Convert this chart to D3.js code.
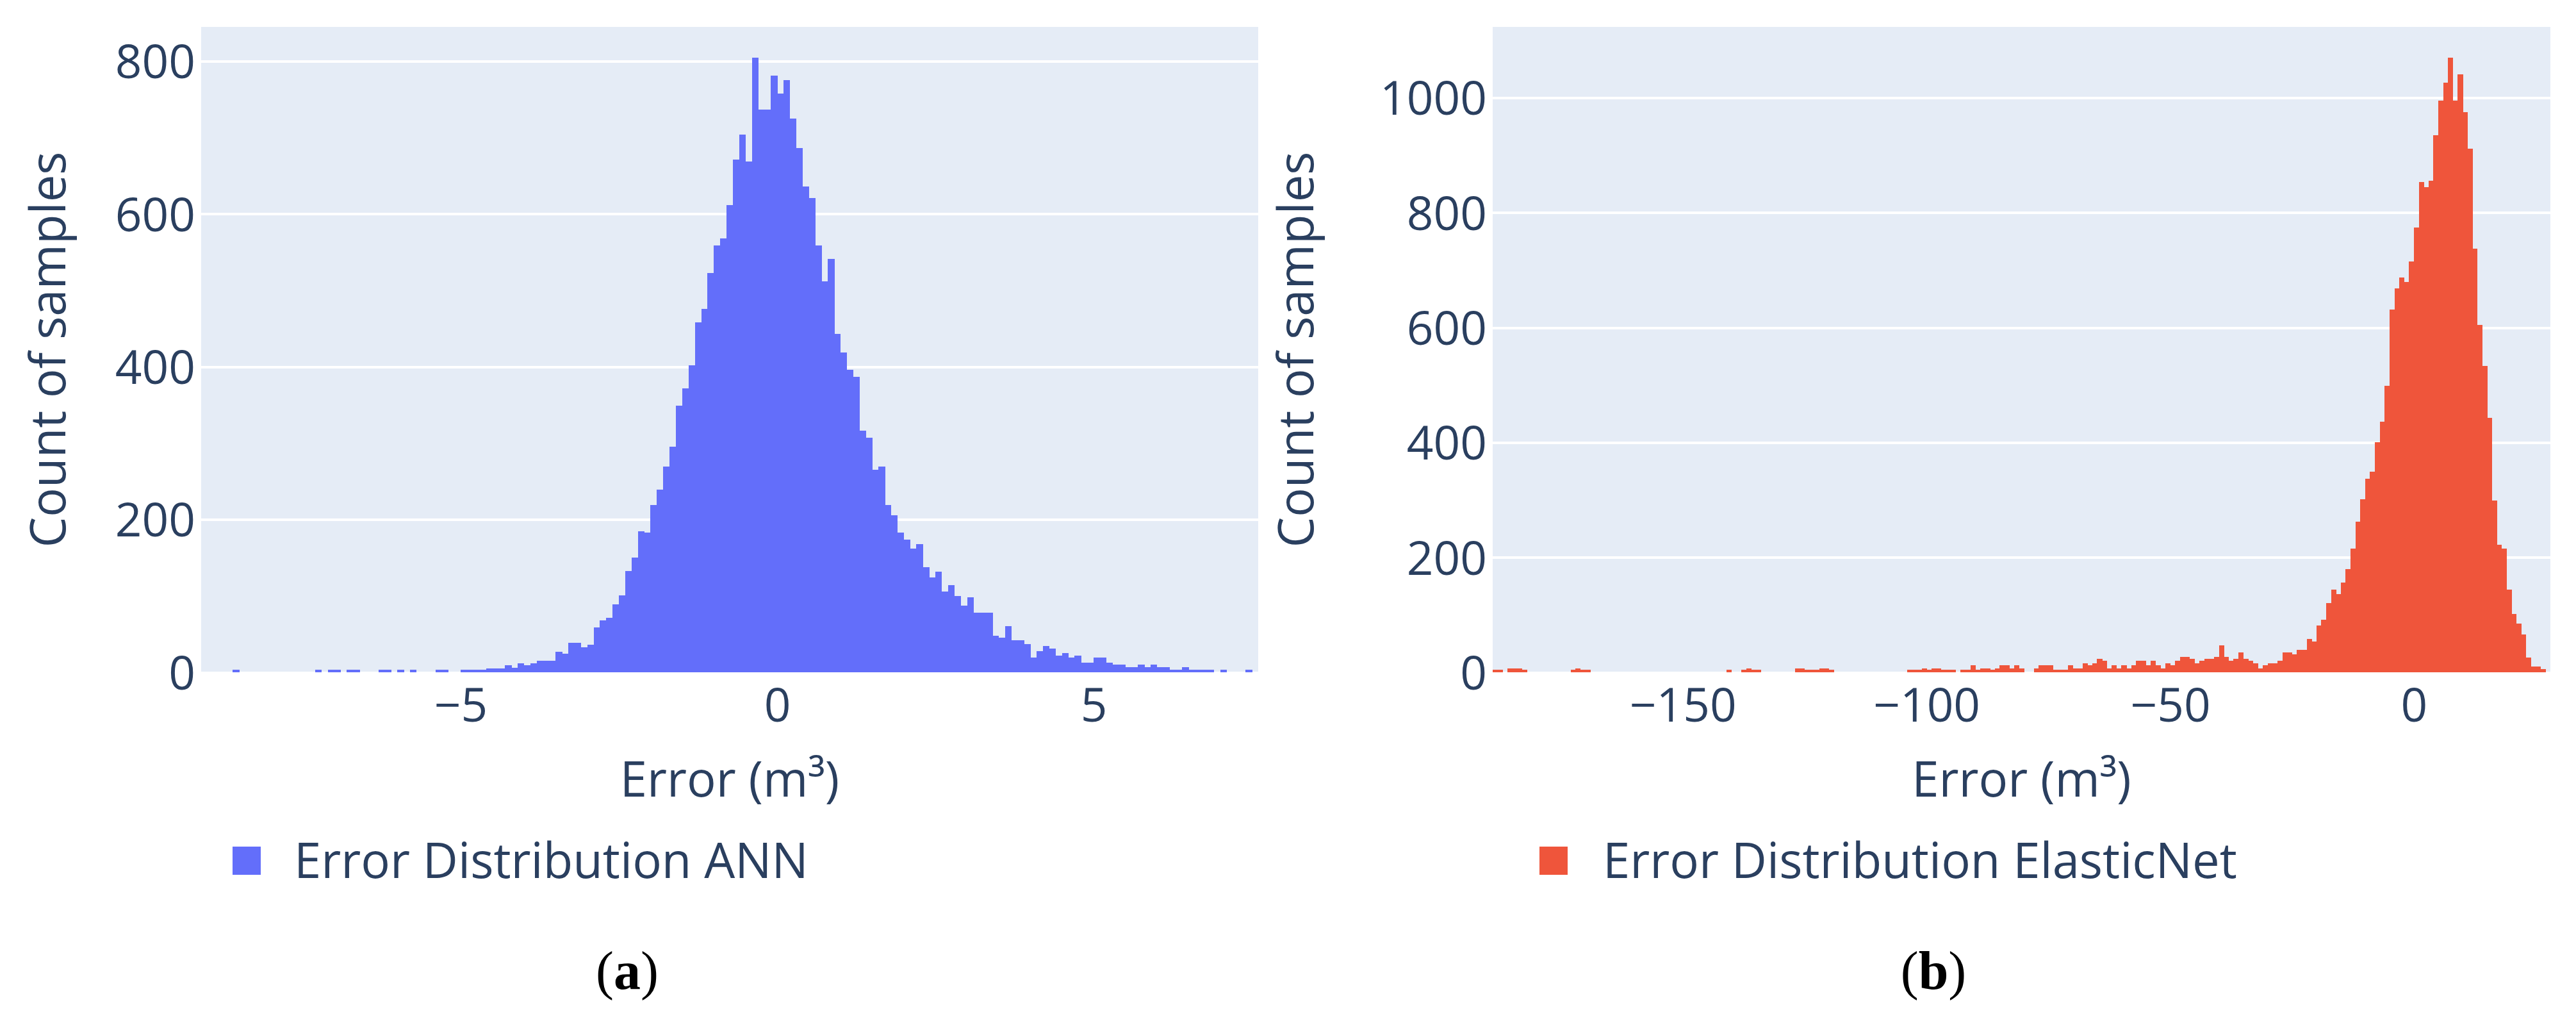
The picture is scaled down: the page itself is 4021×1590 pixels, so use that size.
<!DOCTYPE html>
<html>
<head>
<meta charset="utf-8">
<script src="https://cdn.jsdelivr.net/npm/d3@7"></script>
<style>
  body { margin: 0; background: #fff; }
  text { font-family: "Open Sans", verdana, arial, sans-serif; fill: #2a3f5f; }
  .caption { font-family: "Liberation Serif", "DejaVu Serif", serif; fill: #000; }
</style>
</head>
<body>
<div id="chart-area"></div>
<script>
// ---- data ----
// ANN errors, bins of 0.1 starting at -8.6
var annStart = -8.6;
var annBin = 0.1;
var annCounts = [
  3,0,0,0,0,0,0,0,0,0,0,0,0,3,0,3,3,0,3,3,0,0,0,3,3,0,3,0,3,0,0,0,3,3,0,0,
  3,3,3,3,5,5,5,9,6,12,9,12,15,15,15,27,24,39,39,33,36,59,68,71,89,101,133,150,185,183,
  219,239,269,295,349,372,402,458,476,523,559,568,612,671,704,669,805,737,737,781,758,775,725,686,636,621,559,512,541,443,
  419,396,387,316,307,265,269,219,206,183,174,162,168,138,124,132,106,114,100,
  87,98,78,78,78,48,45,60,42,42,37,19,28,34,31,22,25,19,22,13,13,19,19,13,10,10,7,7,10,7,10,7,7,3,3,7,3,3,3,3,0,3,0,0,0,3
];

// ElasticNet errors, bins of 1 starting at -189
var enStart = -189;
var enBin = 1;
var enCounts = [
  4,4,0,7,7,7,4,0,0,0,0,0,0,0,0,0,4,7,4,4,
  0,0,0,0,0,0,0,0,0,0,0,0,0,0,0,0,0,0,0,0,0,0,0,0,0,0,0,0,
  4,0,0,4,7,4,4,0,0,0,0,0,0,0,7,7,4,4,4,7,7,4,
  0,0,0,0,0,0,0,0,0,0,0,0,0,0,0,
  4,4,4,7,4,7,7,4,4,4,0,4,4,12,4,7,7,4,7,12,12,7,12,7,0,0,7,12,12,12,4,4,4,12,7,7,
  16,12,16,23,20,7,12,7,12,7,12,20,20,12,20,12,7,16,12,20,27,27,23,16,20,23,23,27,47,27,20,23,35,23,20,16,7,12,16,16,20,35,35,31,39,39,
  58,53,81,92,120,144,136,156,180,215,262,301,337,349,400,436,499,632,668,687,679,715,774,853,845,856,935,995,1026,1070,995,1041,975,912,738,605,533,443,299,222,215,144,101,85,66,26,10,10,6
];

var annTicksX = [-5, 0, 5];
var annTicksY = [0, 200, 400, 600, 800];
var enTicksX = [-150, -100, -50, 0];
var enTicksY = [0, 200, 400, 600, 800, 1000];

var annName = "Error Distribution ANN";
var enName = "Error Distribution ElasticNet";
var xTitle = "Error (m\u00b3)";
var yTitle = "Count of samples";

// ---- layout ----
const svgWidth = 4021;
const svgHeight = 1590;

var panels = [
  { left: 314, top: 42, width: 1650, height: 1007, xDomain: [-9.1, 7.6], yMax: 845,
    start: annStart, size: annBin, counts: annCounts, color: "#636efa",
    xTicks: annTicksX, yTicks: annTicksY, yTitleX: 102,
    legendX: 363, legendTextX: 459, name: annName, captionX: 979, caption: "a" },
  { left: 2330, top: 42, width: 1651, height: 1007, xDomain: [-189, 28], yMax: 1123.5,
    start: enStart, size: enBin, counts: enCounts, color: "#ef553b",
    xTicks: enTicksX, yTicks: enTicksY, yTitleX: 2050,
    legendX: 2403, legendTextX: 2502, name: enName, captionX: 3018, caption: "b" }
];

var canvas = d3.select("#chart-area").append("svg")
               .attr("width", svgWidth)
               .attr("height", svgHeight);

canvas.append("rect")
      .attr("width", svgWidth)
      .attr("height", svgHeight)
      .attr("fill", "#fff");

function fmt(d) {
  return d < 0 ? "\u2212" + Math.abs(d) : String(d);
}

panels.forEach(function (p) {
  var xScale = d3.scaleLinear()
                 .domain(p.xDomain)
                 .range([p.left, p.left + p.width]);

  var yScale = d3.scaleLinear()
                 .domain([0, p.yMax])
                 .range([p.top + p.height, p.top]);

  // plot background
  canvas.append("rect")
        .attr("x", p.left)
        .attr("y", p.top)
        .attr("width", p.width)
        .attr("height", p.height)
        .attr("fill", "#e5ecf6");

  // horizontal grid
  var yAxis = d3.axisLeft(yScale)
                .tickValues(p.yTicks)
                .tickSize(-p.width)
                .tickPadding(9)
                .tickFormat(fmt);

  var yAxisGroup = canvas.append("g")
                         .attr("transform", "translate(" + p.left + ",0)")
                         .call(yAxis);

  yAxisGroup.select(".domain").remove();
  yAxisGroup.selectAll(".tick line")
            .attr("stroke", "#fff")
            .attr("stroke-width", 4)
            .attr("shape-rendering", "crispEdges");
  yAxisGroup.selectAll(".tick text")
            .attr("fill", "#2a3f5f")
            .attr("font-size", 73)
            .attr("font-family", '"Open Sans", verdana, arial, sans-serif')
            .attr("dy", "0.36em");

  // bars
  var bins = p.counts.map(function (c, i) {
    return { x0: p.start + i * p.size, x1: p.start + (i + 1) * p.size, count: c };
  }).filter(function (b) { return b.count > 0; });

  canvas.append("g")
        .selectAll("rect")
        .data(bins)
        .enter()
        .append("rect")
        .attr("x", d => xScale(d.x0))
        .attr("width", d => xScale(d.x1) - xScale(d.x0) + 0.5)
        .attr("y", d => yScale(d.count))
        .attr("height", d => yScale(0) - yScale(d.count))
        .attr("fill", p.color)
        .attr("shape-rendering", "crispEdges");

  // x axis labels
  var xAxis = d3.axisBottom(xScale)
                .tickValues(p.xTicks)
                .tickSize(0)
                .tickPadding(0)
                .tickFormat(fmt);

  var xAxisGroup = canvas.append("g")
                         .attr("transform", "translate(0," + (p.top + p.height) + ")")
                         .call(xAxis);

  xAxisGroup.select(".domain").remove();
  xAxisGroup.selectAll(".tick text")
            .attr("fill", "#2a3f5f")
            .attr("font-size", 73)
            .attr("font-family", '"Open Sans", verdana, arial, sans-serif')
            .attr("dy", null)
            .attr("y", 77);

  // axis titles
  canvas.append("text")
        .attr("x", p.left + p.width / 2)
        .attr("y", 1243)
        .attr("text-anchor", "middle")
        .attr("font-size", 76)
        .text(xTitle);

  canvas.append("text")
        .attr("transform", "translate(" + p.yTitleX + "," + (p.top + p.height / 2) + ") rotate(-90)")
        .attr("text-anchor", "middle")
        .attr("font-size", 76)
        .text(yTitle);

  // legend
  canvas.append("rect")
        .attr("x", p.legendX)
        .attr("y", 1321)
        .attr("width", 44)
        .attr("height", 44)
        .attr("fill", p.color);

  canvas.append("text")
        .attr("x", p.legendTextX)
        .attr("y", 1370)
        .attr("font-size", 76)
        .text(p.name);

  // caption (a) / (b)
  var cap = canvas.append("text")
                  .attr("class", "caption")
                  .attr("x", p.captionX)
                  .attr("y", 1543)
                  .attr("text-anchor", "middle")
                  .attr("font-size", 84);
  cap.append("tspan").text("(");
  cap.append("tspan").attr("font-weight", "bold").text(p.caption);
  cap.append("tspan").text(")");
});
</script>
</body>
</html>
